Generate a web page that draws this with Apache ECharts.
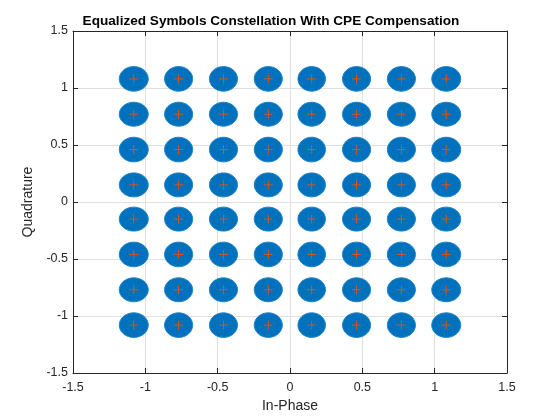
<!DOCTYPE html>
<html>
<head>
<meta charset="utf-8">
<script src="https://cdn.jsdelivr.net/npm/echarts@6/dist/echarts.min.js"></script>
<style>
  html, body { margin: 0; padding: 0; background: #fff; }
  #chart { width: 560px; height: 420px; }
</style>
</head>
<body>
<div id="chart"></div>
<script>
// in-phase / quadrature levels of the ideal 64-QAM points
var iLevels = [-1.08, -0.77, -0.46, -0.15, 0.15, 0.46, 0.77, 1.08];
var qLevels = [1.08, 0.77, 0.46, 0.15, -0.15, -0.46, -0.77, -1.08];
// half-width of the received symbol clouds, per column (I) and row (Q)
var spreadI = [0.1, 0.097, 0.097, 0.097, 0.095, 0.097, 0.097, 0.1];
var spreadQ = [0.108, 0.105, 0.108, 0.105, 0.105, 0.108, 0.105, 0.108];
var axisTicks = [-1.5, -1, -0.5, 0, 0.5, 1, 1.5];

var clouds = [];
var ideal = [];
qLevels.forEach(function (q, r) {
  iLevels.forEach(function (i, c) {
    clouds.push([i, q, spreadI[c], spreadQ[r]]);
    ideal.push([i, q]);
  });
});

var myChart = echarts.init(document.getElementById("chart"), null, { renderer: "canvas" });

var axisCommon = {
  type: "value",
  min: axisTicks[0],
  max: axisTicks[axisTicks.length - 1],
  interval: 0.5,
  axisLine: { show: true, onZero: false, lineStyle: { color: "#262626", width: 1 } },
  axisTick: { show: true, inside: true, length: 5, lineStyle: { color: "#262626" } },
  splitLine: { show: true, lineStyle: { color: "#e0e0e0", width: 1 } },
  axisLabel: { color: "#262626", fontSize: 12.5, fontFamily: "Liberation Sans" }
};

myChart.setOption({
  animation: false,
  title: {
    text: "Equalized Symbols Constellation With CPE Compensation",
    left: 266, top: 9, textAlign: "center",
    textStyle: { fontSize: 13.6, fontWeight: "bold", color: "#000", fontFamily: "Liberation Sans" }
  },
  grid: { left: 73, right: 53, top: 31, bottom: 47 },
  xAxis: [
    Object.assign({}, axisCommon, {
      name: "In-Phase", nameLocation: "middle", nameGap: 25,
      nameTextStyle: { fontSize: 14, color: "#262626", fontFamily: "Liberation Sans" },
      axisLabel: Object.assign({}, axisCommon.axisLabel, { margin: 8 })
    }),
    Object.assign({}, axisCommon, {
      position: "top", axisLabel: { show: false }, splitLine: { show: false }
    })
  ],
  yAxis: [
    Object.assign({}, axisCommon, {
      name: "Quadrature", nameLocation: "middle", nameGap: 33,
      nameTextStyle: { fontSize: 14, color: "#262626", fontFamily: "Liberation Sans" },
      axisLabel: Object.assign({}, axisCommon.axisLabel, { margin: 5 })
    }),
    Object.assign({}, axisCommon, {
      position: "right", axisLabel: { show: false }, splitLine: { show: false }
    })
  ],
  series: [
    {
      type: "custom",
      data: clouds,
      renderItem: function (params, api) {
        var c = api.coord([api.value(0), api.value(1)]);
        var s = api.size([api.value(2), api.value(3)]);
        var pts = [];
        for (var k = 0; k < 48; k++) {
          var a = k / 48 * Math.PI * 2;
          pts.push([c[0] + s[0] * Math.cos(a), c[1] + s[1] * Math.sin(a)]);
        }
        return {
          type: "polygon",
          shape: { points: pts },
          style: { fill: "#0072BD", stroke: "#1a80c6", lineWidth: 1 }
        };
      }
    },
    {
      type: "custom",
      data: ideal,
      z: 5,
      renderItem: function (params, api) {
        var c = api.coord([api.value(0), api.value(1)]);
        var h = 4.5;
        var st = { stroke: "#D95319", lineWidth: 1 };
        return {
          type: "group",
          children: [
            { type: "line", shape: { x1: c[0] - h, y1: c[1], x2: c[0] + h, y2: c[1] }, style: st },
            { type: "line", shape: { x1: c[0], y1: c[1] - h, x2: c[0], y2: c[1] + h }, style: st }
          ]
        };
      }
    }
  ]
});
</script>
</body>
</html>
